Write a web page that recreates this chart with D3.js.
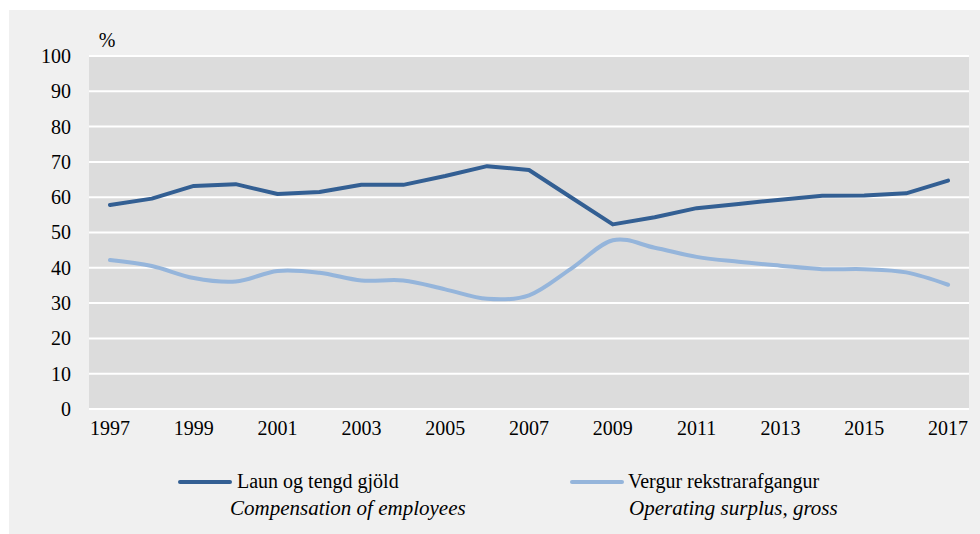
<!DOCTYPE html>
<html>
<head>
<meta charset="utf-8">
<script src="https://cdn.jsdelivr.net/npm/d3@7"></script>
<style>
  body { margin: 0; background: #ffffff; }
  svg text { font-family: "Liberation Serif", "Times New Roman", serif; fill: #000; }
</style>
</head>
<body>
<div id="graph"></div>
<script>
// data
var years = [1997,1998,1999,2000,2001,2002,2003,2004,2005,2006,2007,2008,2009,2010,2011,2012,2013,2014,2015,2016,2017];
var laun = [57.8,59.6,63.2,63.7,60.9,61.5,63.5,63.5,66.0,68.8,67.7,60.0,52.3,54.3,56.9,58.1,59.3,60.4,60.5,61.1,64.7];
var vergur = [42.2,40.5,37.1,36.1,39.1,38.6,36.4,36.4,33.9,31.2,32.2,39.7,47.8,45.7,43.1,41.7,40.6,39.6,39.6,38.7,35.2];
var yTicks = [0,10,20,30,40,50,60,70,80,90,100];
var xTickYears = [1997,1999,2001,2003,2005,2007,2009,2011,2013,2015,2017];
var seriesNames = ["Laun og tengd gjöld","Vergur rekstrarafgangur"];
var seriesNamesEn = ["Compensation of employees","Operating surplus, gross"];

var width = 980, height = 534;
var plot = {left: 89, top: 56, right: 969, bottom: 409};
var fs = 20;

var svg = d3.select("#graph").append("svg")
  .attr("width", width).attr("height", height);

// outer background
svg.append("rect").attr("x", 9).attr("y", 10)
  .attr("width", width - 9).attr("height", height - 10)
  .attr("fill", "#f0f0f0");

// plot area
svg.append("rect").attr("x", plot.left).attr("y", plot.top)
  .attr("width", plot.right - plot.left).attr("height", plot.bottom - plot.top)
  .attr("fill", "#dcdcdc");

var x = d3.scaleBand().domain(years).range([plot.left, plot.right]);
var y = d3.scaleLinear().domain([0, 100]).range([plot.bottom, plot.top]);
var cx = function(yr){ return x(yr) + x.bandwidth()/2; };

// gridlines
svg.append("g").selectAll("line").data(yTicks).enter().append("line")
  .attr("x1", plot.left).attr("x2", plot.right)
  .attr("y1", function(d){ return y(d); }).attr("y2", function(d){ return y(d); })
  .attr("stroke", "#ffffff").attr("stroke-width", 2);

// y axis labels
var yAxis = d3.axisLeft(y).tickValues(yTicks).tickSize(0).tickPadding(18);
var gy = svg.append("g").attr("transform", "translate(" + plot.left + ",0)").call(yAxis);
gy.select(".domain").remove();
gy.selectAll("text").style("font-size", fs + "px").style("font-family", "Liberation Serif").attr("fill", "#000");

// x axis labels
var xAxis = d3.axisBottom(x).tickValues(xTickYears).tickSize(0).tickPadding(12);
var gx = svg.append("g").attr("transform", "translate(0," + plot.bottom + ")").call(xAxis);
gx.select(".domain").remove();
gx.selectAll("text").style("font-size", fs + "px").style("font-family", "Liberation Serif").attr("fill", "#000");

svg.append("text").attr("x", 107).attr("y", 47).attr("text-anchor", "middle")
  .style("font-size", fs + "px").text("%");

var colors = ["#335f93", "#95b5db"];

var line1 = d3.line().x(function(d,i){ return cx(years[i]); }).y(function(d){ return y(d); });
var line2 = d3.line().x(function(d,i){ return cx(years[i]); }).y(function(d){ return y(d); })
  .curve(d3.curveCardinal.tension(0));

svg.append("path").datum(vergur).attr("d", line2)
  .attr("fill", "none").attr("stroke", colors[1]).attr("stroke-width", 4)
  .attr("stroke-linecap", "round").attr("stroke-linejoin", "round");
svg.append("path").datum(laun).attr("d", line1)
  .attr("fill", "none").attr("stroke", colors[0]).attr("stroke-width", 4)
  .attr("stroke-linecap", "round").attr("stroke-linejoin", "round");

// legend
var leg = [
  {lx: 180, tx: 237, ex: 230},
  {lx: 572, tx: 628, ex: 629}
];
leg.forEach(function(l, i){
  svg.append("line").attr("x1", l.lx).attr("x2", l.lx + 50)
    .attr("y1", 482).attr("y2", 482)
    .attr("stroke", colors[i]).attr("stroke-width", 4).attr("stroke-linecap", "round");
  svg.append("text").attr("x", l.tx).attr("y", 488).style("font-size", fs + "px").text(seriesNames[i]);
  svg.append("text").attr("x", l.ex).attr("y", 515).style("font-size", (fs + 1) + "px")
    .style("font-style", "italic").text(seriesNamesEn[i]);
});
</script>
</body>
</html>
